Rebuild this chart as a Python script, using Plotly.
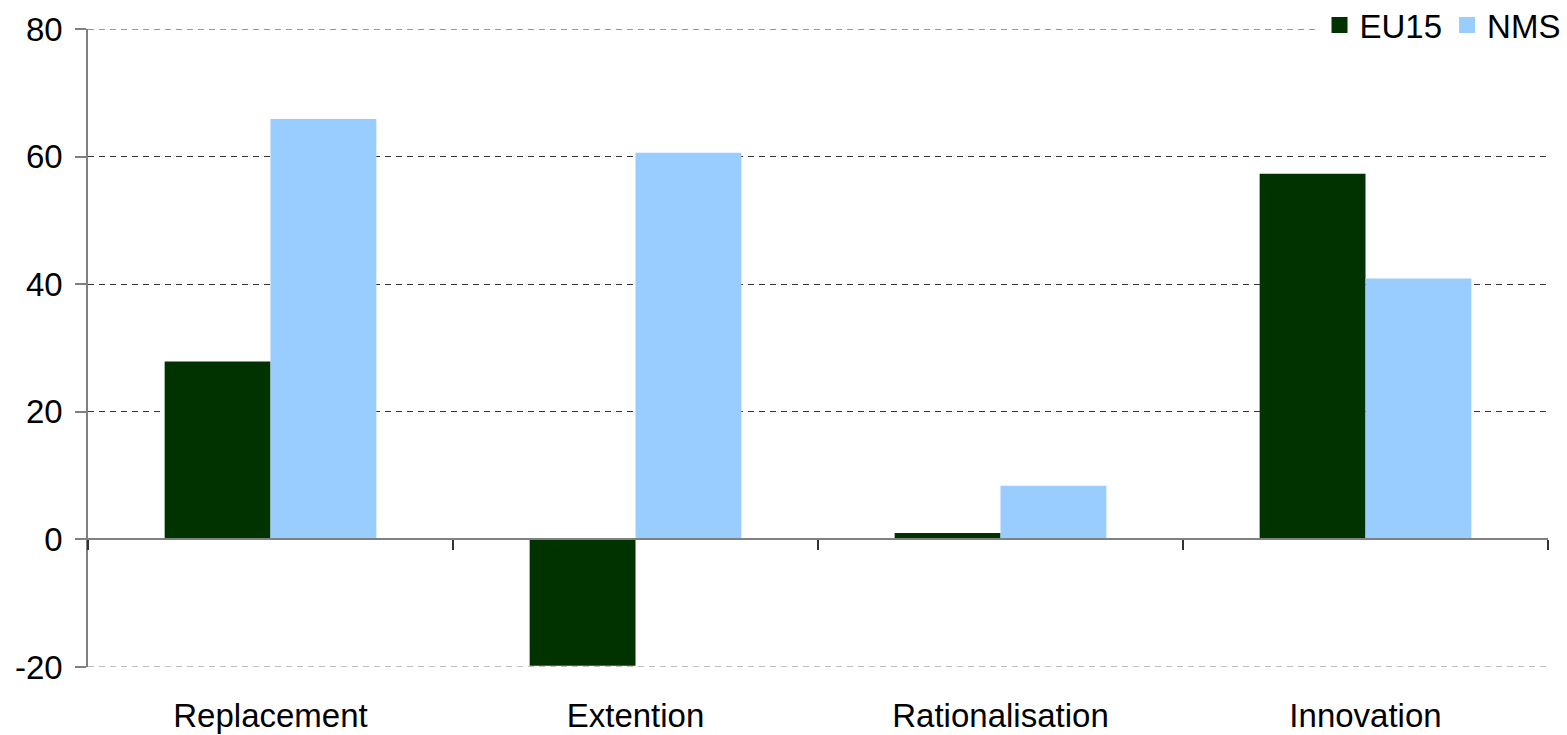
import plotly.graph_objects as go

categories = ["Replacement", "Extention", "Rationalisation", "Innovation"]
eu15 = [27.9, -19.8, 1.0, 57.3]
nms = [65.9, 60.6, 8.4, 40.9]
y_ticks = [-20, 0, 20, 40, 60, 80]
y_tick_text = ["-20", "0", "20", "40", "60", "80"]

series_names = ["EU15", "NMS"]
series_colors = ["#003300", "#99CCFF"]

FONT = "Liberation Sans, Arial, sans-serif"

fig = go.Figure()
for name, vals, col in zip(series_names, [eu15, nms], series_colors):
    fig.add_trace(go.Bar(name=name, x=categories, y=vals, legendgroup=name,
                         showlegend=False,
                         marker=dict(color=col, line=dict(width=0))))
    # square legend key for each series
    fig.add_trace(go.Scatter(name=name, x=[None], y=[None], legendgroup=name,
                             mode="markers",
                             marker=dict(symbol="square", size=20, color=col,
                                         line=dict(width=0))))

fig.update_layout(
    width=1567, height=735,
    margin=dict(l=88, r=19, t=29, b=68, autoexpand=False),
    paper_bgcolor="white", plot_bgcolor="white",
    barmode="group", bargap=0.42, bargroupgap=0,
    font=dict(family=FONT, size=33, color="black"),
    legend=dict(orientation="h", x=1.012, xanchor="right", y=1.006, yanchor="middle",
                bgcolor="white", font=dict(size=33), itemwidth=30,
                tracegroupgap=0),
    showlegend=True,
)

# bottom axis carries the category labels only
fig.update_xaxes(
    categoryorder="array", categoryarray=categories,
    showline=False, ticks="", showgrid=False, zeroline=False,
    ticklabelstandoff=26, automargin=False,
)

# category axis drawn at y = 0 with tick marks between categories
fig.update_layout(xaxis2=dict(
    overlaying="x", matches="x", anchor="free", position=0.2, side="bottom",
    showline=True, linecolor="#808080", linewidth=1.5,
    ticks="outside", tickson="boundaries", ticklen=10, tickcolor="#333333", tickwidth=1.5,
    showticklabels=False, showgrid=False, zeroline=False, automargin=False,
    categoryorder="array", categoryarray=categories,
))
fig.add_trace(go.Scatter(x=categories, y=[0] * len(categories), xaxis="x2",
                         mode="markers", marker=dict(opacity=0), showlegend=False,
                         hoverinfo="skip"))

fig.update_yaxes(
    range=[-20, 80], tickvals=y_ticks, ticktext=y_tick_text,
    showgrid=True, gridcolor="#333333", griddash="6px,5px", gridwidth=1.2,
    zeroline=False,
    showline=True, linecolor="#808080", linewidth=1.5,
    ticks="outside", ticklen=11, tickcolor="#808080", tickwidth=1.5,
    ticklabelstandoff=6, automargin=False,
)

# dashed grid lines at the two range limits, kept under the legend
fig.add_hline(y=y_ticks[-1], layer="below",
              line=dict(color="#333333", dash="6px,5px", width=1.2))
fig.add_hline(y=y_ticks[0], layer="below",
              line=dict(color="#808080", dash="6px,5px", width=1.2))

fig.write_html("out.html")
